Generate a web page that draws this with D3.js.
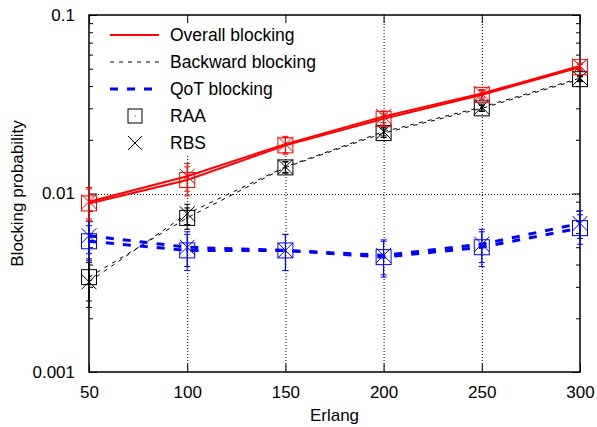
<!DOCTYPE html>
<html><head><meta charset="utf-8">
<script src="https://cdn.jsdelivr.net/npm/d3@7"></script>
<style>body{margin:0;background:#fff}svg{display:block}text{font-family:"Liberation Sans",Arial,Helvetica,sans-serif}</style>
</head><body>
<script>
const erlang = [50, 100, 150, 200, 250, 300];
const overallRAA = [0.0088, 0.0119, 0.0186, 0.0262, 0.0357, 0.0510];
const overallRBS = [0.0090, 0.0125, 0.0189, 0.0270, 0.0363, 0.0518];
const backwardRAA = [0.0034, 0.0073, 0.0140, 0.0218, 0.0300, 0.0437];
const backwardRBS = [0.0032, 0.0077, 0.0141, 0.0222, 0.0305, 0.0443];
const qotRAA = [0.0054, 0.0048, 0.0048, 0.0044, 0.0050, 0.0064];
const qotRBS = [0.0058, 0.0050, 0.0048, 0.0045, 0.0052, 0.0068];
const overallErr = [0.0018, 0.0022, 0.0020, 0.0020, 0.0020, 0.0020];
const backwardErr = [0.0009, 0.0010, 0.0010, 0.0012, 0.0012, 0.0014];
const qotErr = [0.0012, 0.0011, 0.0011, 0.0010, 0.0011, 0.0012];
const xTicks = [50, 100, 150, 200, 250, 300];
const yTicks = [0.001, 0.01, 0.1];
const yTickLabels = ["0.001", "0.01", "0.1"];
const legendLabels = ["Overall blocking", "Backward blocking", "QoT blocking", "RAA", "RBS"];

const W = 597, H = 427;
const m = {l: 89, r: 17, t: 15, b: 55};
const FS = 17, LFS = 17.5;
const svg = d3.select("body").append("svg").attr("width", W).attr("height", H);
const x = d3.scaleLinear().domain([50, 300]).range([m.l, W - m.r]);
const y = d3.scaleLog().domain([0.001, 0.1]).range([H - m.b, m.t]);

// grid
const grid = svg.append("g").attr("stroke", "#000").attr("stroke-width", 1).attr("stroke-dasharray", "1,2");
xTicks.slice(1, -1).forEach(v => grid.append("line").attr("x1", x(v) + 0.5).attr("x2", x(v) + 0.5).attr("y1", y(0.1)).attr("y2", y(0.001)));
grid.append("line").attr("x1", x(50)).attr("x2", x(300)).attr("y1", Math.round(y(0.01)) + 0.5).attr("y2", Math.round(y(0.01)) + 0.5);

// legend background (opaque key)
svg.append("rect").attr("x", m.l + 1).attr("y", m.t + 1).attr("width", 240).attr("height", 140).attr("fill", "#fff");

// axes
const minor = [];
[0.001, 0.01].forEach(d => { for (let k = 2; k <= 9; k++) minor.push(d * k); });
const axB = d3.axisBottom(x).tickValues(xTicks).tickSize(-8).tickPadding(14).tickFormat(d3.format("d"));
const axT = d3.axisTop(x).tickValues(xTicks).tickSize(-8).tickFormat("");
const axL = d3.axisLeft(y).tickValues(yTicks).tickSize(-8).tickPadding(14).tickFormat((d, i) => yTickLabels[i]);
const axR = d3.axisRight(y).tickValues(yTicks).tickSize(-8).tickFormat("");
const axLm = d3.axisLeft(y).tickValues(minor).tickSize(-4).tickFormat("");
const axRm = d3.axisRight(y).tickValues(minor).tickSize(-4).tickFormat("");
function style(g) { g.select(".domain").remove(); g.selectAll("line").attr("stroke", "#000"); g.selectAll("text").attr("font-size", FS).attr("fill", "#000").attr("font-family", '"Liberation Sans",Arial,sans-serif'); }
svg.append("g").attr("transform", `translate(0,${H - m.b})`).call(axB).call(style);
svg.append("g").attr("transform", `translate(0,${m.t})`).call(axT).call(style);
svg.append("g").attr("transform", `translate(${m.l},0)`).call(axL).call(style);
svg.append("g").attr("transform", `translate(${W - m.r},0)`).call(axR).call(style);
svg.append("g").attr("transform", `translate(${m.l},0)`).call(axLm).call(style);
svg.append("g").attr("transform", `translate(${W - m.r},0)`).call(axRm).call(style);
svg.append("rect").attr("x", m.l).attr("y", m.t).attr("width", W - m.l - m.r).attr("height", H - m.t - m.b).attr("fill", "none").attr("stroke", "#000").attr("stroke-width", 1.5);

// titles
svg.append("text").attr("x", (m.l + W - m.r) / 2).attr("y", 421).attr("text-anchor", "middle").attr("font-size", FS).text("Erlang");
svg.append("text").attr("transform", `translate(23,${(m.t + H - m.b) / 2}) rotate(-90)`).attr("text-anchor", "middle").attr("font-size", FS).text("Blocking probability");

// series
const bDash = "4,5", qDash = "8,9";
const series = [
  {vals: backwardRAA, err: backwardErr, color: "#000", width: 1, dash: bDash, mk: "sq"},
  {vals: backwardRBS, err: backwardErr, color: "#000", width: 1, dash: bDash, mk: "x"},
  {vals: qotRAA, err: qotErr, color: "#0000ff", width: 3, dash: qDash, mk: "sq"},
  {vals: qotRBS, err: qotErr, color: "#0000ff", width: 3, dash: qDash, mk: "x"},
  {vals: overallRAA, err: overallErr, color: "#ff0000", width: 2, dash: null, mk: "sq"},
  {vals: overallRBS, err: overallErr, color: "#ff0000", width: 2, dash: null, mk: "x"}
];
const line = d3.line().x(d => x(d[0])).y(d => y(d[1]));
const S = 7.5;
series.forEach(s => {
  const pts = erlang.map((e, i) => [e, s.vals[i], s.err[i]]);
  svg.append("path").datum(pts).attr("d", line).attr("fill", "none").attr("stroke", s.color)
    .attr("stroke-width", s.width).attr("stroke-dasharray", s.dash);
  const g = svg.append("g").attr("stroke", s.color).attr("stroke-width", 1).attr("fill", "none");
  pts.forEach(p => {
    const cx = x(p[0]), cy = y(p[1]), yt = y(p[1] + p[2]), yb = y(p[1] - p[2]);
    g.append("line").attr("x1", cx).attr("x2", cx).attr("y1", yt).attr("y2", yb);
    g.append("line").attr("x1", cx - 3).attr("x2", cx + 3).attr("y1", yt).attr("y2", yt);
    g.append("line").attr("x1", cx - 3).attr("x2", cx + 3).attr("y1", yb).attr("y2", yb);
    if (s.mk === "sq") {
      g.append("rect").attr("x", cx - S).attr("y", cy - S).attr("width", 2 * S).attr("height", 2 * S);
      g.append("rect").attr("x", cx - 0.5).attr("y", cy - 0.5).attr("width", 1).attr("height", 1).attr("fill", s.color);
    } else {
      g.append("path").attr("d", `M${cx - S},${cy - S}L${cx + S},${cy + S}M${cx - S},${cy + S}L${cx + S},${cy - S}`);
    }
  });
});

// legend
const lg = svg.append("g");
const rowY = [35, 62, 89, 116, 143];
const lstyles = [{c: "#ff0000", w: 2, d: null}, {c: "#000", w: 1, d: bDash}, {c: "#0000ff", w: 3, d: qDash}];
lstyles.forEach((st, i) => {
  lg.append("line").attr("x1", 110).attr("x2", 159).attr("y1", rowY[i]).attr("y2", rowY[i])
    .attr("stroke", st.c).attr("stroke-width", st.w).attr("stroke-dasharray", st.d);
});
lg.append("rect").attr("x", 135 - 7).attr("y", rowY[3] - 7).attr("width", 14).attr("height", 14).attr("fill", "none").attr("stroke", "#000");
lg.append("rect").attr("x", 134.5).attr("y", rowY[3] - 0.5).attr("width", 1).attr("height", 1).attr("fill", "#000");
lg.append("path").attr("d", `M128,${rowY[4] - 7}L142,${rowY[4] + 7}M128,${rowY[4] + 7}L142,${rowY[4] - 7}`).attr("stroke", "#000").attr("fill", "none");
legendLabels.forEach((t, i) => {
  lg.append("text").attr("x", 170).attr("y", rowY[i] + 6).attr("font-size", LFS).attr("fill", "#000").text(t);
});
</script>
</body></html>
